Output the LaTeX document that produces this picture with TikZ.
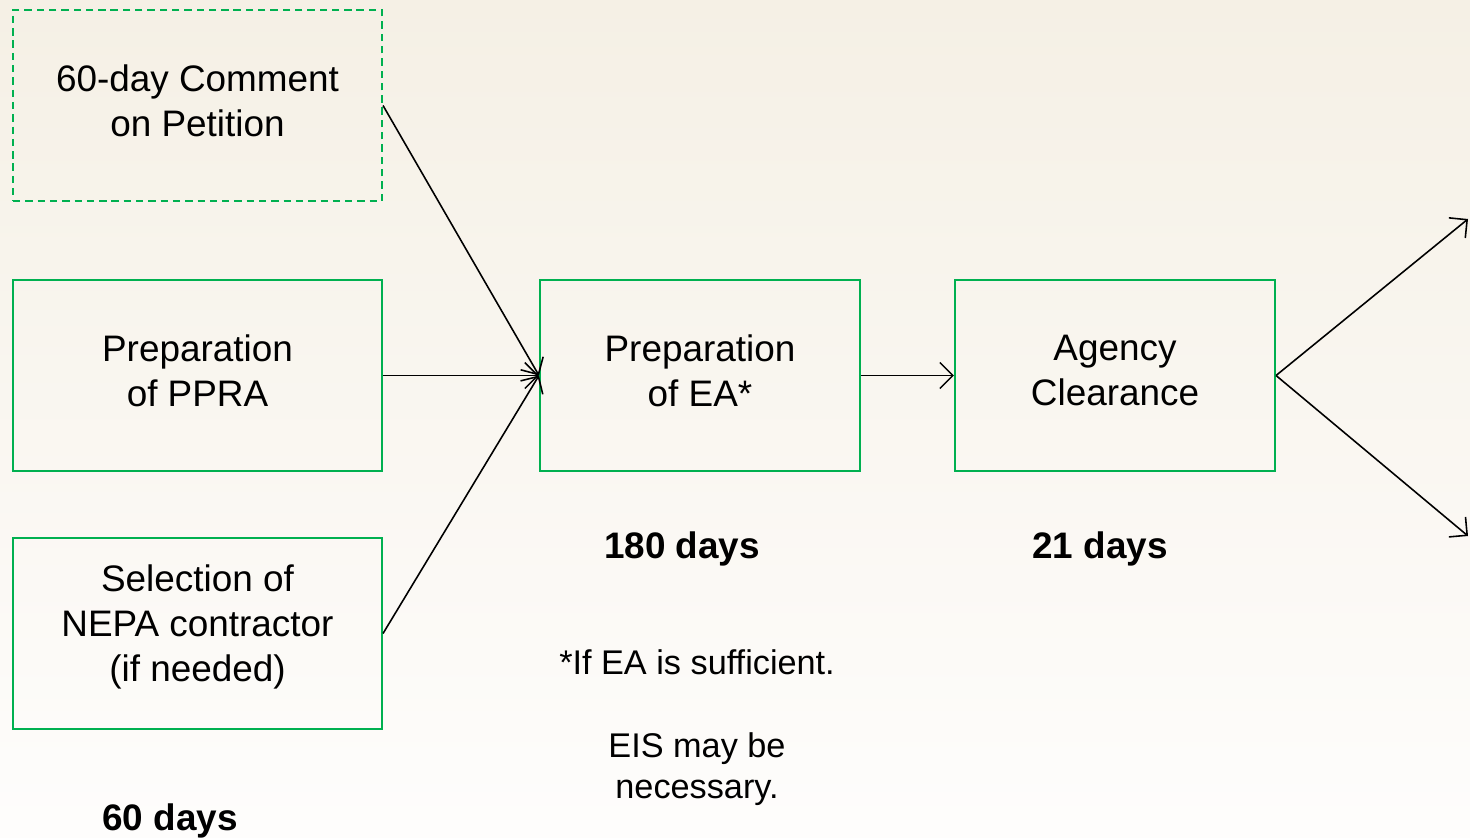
\documentclass[tikz,border=0pt]{standalone}
\usepackage{fontspec}
\setmainfont{Liberation Sans}
\usepackage{xcolor}
\usetikzlibrary{arrows.meta,positioning,calc}
\definecolor{boxgreen}{RGB}{0,176,80}
\definecolor{bgtop}{RGB}{245,240,229}
\definecolor{bgbottom}{RGB}{254,253,252}
\tikzset{>={Straight Barb[length=2.6mm,width=5.2mm]}}
\tikzset{
  stepbox/.style={draw=boxgreen,line width=1.2pt,minimum width=7.38cm,minimum height=3.82cm,
    align=center,font=\fontsize{21}{25.5}\selectfont,inner sep=0pt,text depth=0.2cm},
  wideb/.style={stepbox,minimum width=6.4cm},
  flow/.style={->,line width=0.9pt},
  dur/.style={font=\fontsize{21}{25}\selectfont\bfseries},
  note/.style={align=center,font=\fontsize{19.5}{23.5}\selectfont}
}

\begin{document}
\begin{tikzpicture}[x=0.02cm,y=-0.02cm]
  % background
  \shade[top color=bgtop,bottom color=bgbottom] (0,0) rectangle (1470,838);
  \useasboundingbox (0,0) rectangle (1470,838);

  % inputs
  \node[stepbox,dash pattern=on 4.2pt off 2.8pt] (comment) at (197.5,105.5) {60-day Comment\\on Petition};
  \node[stepbox] (ppra) at (197.5,375.5) {Preparation\\of PPRA};
  \node[stepbox,text depth=0.42cm] (select) at (197.5,633.5) {Selection of\\NEPA contractor\\(if needed)};

  % EA and clearance
  \node[wideb] (ea) at (700,375.5) {Preparation\\of EA*};
  \node[wideb] (clear) at (1115,375.5) {Agency\\Clearance};

  % durations and notes
  \node[dur] (d60) at (170,821) {60 days};
  \node[dur] (d180) at (682,549) {180 days};
  \node[dur] (d21) at (1100,549) {21 days};
  \node[note] (eanote) at (697,728) {*If EA is sufficient.\\[0pt] \\EIS may be\\necessary.};

  % outcomes
  \coordinate (up) at (1468,219);
  \coordinate (down) at (1468,536);

  % connectors
  \draw[flow] (comment.east) -- (ea.west);
  \draw[flow] (ppra.east) -- (ea.west);
  \draw[flow] (select.east) -- (ea.west);
  \draw[flow] (ea.east) -- (clear.west);
  \draw[flow] (clear.east) -- (up);
  \draw[flow] (clear.east) -- (down);
\end{tikzpicture}
\end{document}
